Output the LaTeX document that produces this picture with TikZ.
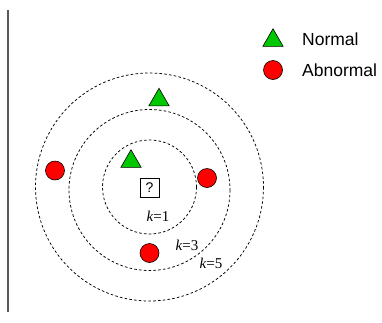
\documentclass[tikz,border=0pt]{standalone}
\usepackage{fontspec}
\setmainfont{Liberation Serif}
\setsansfont{Liberation Sans}
\usetikzlibrary{shapes.geometric}
\definecolor{okgreen}{RGB}{0,200,0}
\definecolor{badred}{RGB}{255,0,0}
\begin{document}
\begin{tikzpicture}[x=1pt,y=-1pt,
  ring/.style={draw,dash pattern=on 2.6pt off 2.2pt,line width=0.75pt},
  normpt/.style={regular polygon,regular polygon sides=3,minimum size=23.5pt,inner sep=0pt,fill=okgreen,draw=black,line width=0.6pt},
  abpt/.style={circle,minimum size=19pt,inner sep=0pt,fill=badred,draw=black,line width=0.6pt},
  klabel/.style={font=\fontsize{15}{15}\selectfont,inner sep=0pt},
  legtext/.style={font=\sffamily\fontsize{17.5}{18}\selectfont,anchor=west,inner sep=0pt}]
\useasboundingbox (0,0) rectangle (382,322);
% left rule
\draw[gray!70!black,line width=1.3pt] (8,10) -- (8,312);
% neighbourhood rings
\draw[ring] (149.5,187) circle[radius=47];
\draw[ring] (149.5,190) circle[radius=80.5];
\draw[ring] (149.5,187) circle[radius=114];
% query point
\node[draw,line width=0.7pt,minimum size=19pt,inner sep=0pt,font=\sffamily\fontsize{14}{14}\selectfont] (q) at (149.5,187.5) {?};
% samples
\node[normpt] (n1) at (131,161.5) {};
\node[normpt] (n2) at (159,100) {};
\node[abpt] (a1) at (55,170.5) {};
\node[abpt] (a2) at (207,178) {};
\node[abpt] (a3) at (149.5,253) {};
% ring labels
\node[klabel] (k1) at (158,216.5) {\textit{k}=1};
\node[klabel] (k3) at (187,245) {\textit{k}=3};
\node[klabel] (k5) at (211,263) {\textit{k}=5};
% legend
\node[normpt] (ln) at (273,40.5) {};
\node[abpt] (la) at (273,70) {};
\node[legtext] (lnt) at (302,39.5) {Normal};
\node[legtext] (lat) at (302,70) {Abnormal};
\end{tikzpicture}
\end{document}
